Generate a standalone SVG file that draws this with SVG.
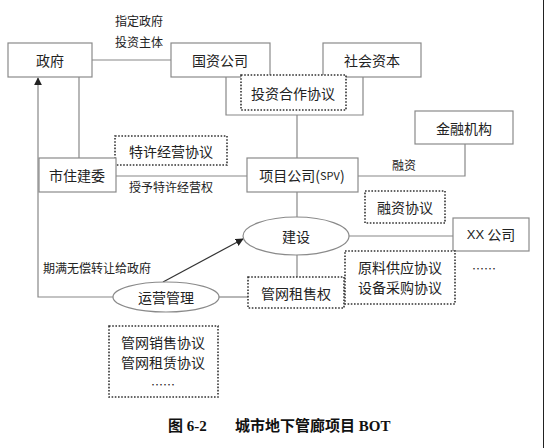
<svg xmlns="http://www.w3.org/2000/svg" width="544" height="448" viewBox="0 0 544 448">
<defs>
<style>
.box{fill:#fff;stroke:#8a8a8a;stroke-width:1.2}
.dot{fill:#fff;stroke:#333;stroke-width:1.6;stroke-dasharray:1.6 1.6}
.ln{fill:none;stroke:#888;stroke-width:1.2}
.t{font-family:"Noto Sans CJK SC","Liberation Sans",sans-serif;font-size:14px;fill:#222;text-anchor:middle;dominant-baseline:central}
.s{font-family:"Noto Sans CJK SC","Liberation Sans",sans-serif;font-size:12px;fill:#222;text-anchor:middle;dominant-baseline:central}
.cap{font-family:"Liberation Serif","Noto Sans CJK SC",serif;font-size:15px;font-weight:bold;fill:#111;dominant-baseline:central}
</style>
<marker id="ah" viewBox="0 0 10 10" refX="9" refY="5" markerWidth="8" markerHeight="8" markerUnits="userSpaceOnUse" orient="auto">
<path d="M0,0 L10,5 L0,10 Z" fill="#222"/>
</marker>
</defs>
<rect width="544" height="448" fill="#fff"/>
<line x1="543.5" y1="0" x2="543.5" y2="448" stroke="#222" stroke-width="1"/>
<g id="connectors">
<line class="ln" x1="92" y1="60" x2="171" y2="60"/>
<polyline class="ln" points="226,77 226,115 363,115 363,77"/>
<line class="ln" x1="297" y1="115" x2="297" y2="158"/>
<polyline class="ln" points="358,176 465,176 465,144"/>
<line class="ln" x1="79" y1="77" x2="79" y2="158"/>
<line class="ln" x1="116" y1="176" x2="247" y2="176"/>
<line class="ln" x1="297" y1="192" x2="297" y2="217"/>
<line class="ln" x1="349" y1="236" x2="453" y2="236"/>
<line class="ln" x1="297" y1="255" x2="297" y2="277"/>
<line class="ln" x1="218" y1="297" x2="248" y2="297"/>
<polyline class="ln" points="113,297 38,297 38,78" marker-end="url(#ah)"/>
<line x1="163" y1="282" x2="243" y2="239" stroke="#333" stroke-width="1.2" marker-end="url(#ah)"/>
</g>
<g id="label-zhiding"><text class="s" x="139" y="20">指定政府</text><text class="s" x="139" y="41">投资主体</text></g>
<g id="label-shouyu"><text class="s" x="171" y="186">授予特许经营权</text></g>
<g id="label-rongzi"><text class="s" x="404" y="164">融资</text></g>
<g id="label-qiman"><text class="s" x="97" y="267">期满无偿转让给政府</text></g>
<g id="zhengfu"><rect class="box" x="8" y="43" width="84" height="34"/><text class="t" x="50" y="60">政府</text></g>
<g id="guozi"><rect class="box" x="171" y="43" width="99" height="34"/><text class="t" x="220" y="60">国资公司</text></g>
<g id="shehui"><rect class="box" x="323" y="43" width="98" height="34"/><text class="t" x="372" y="60">社会资本</text></g>
<g id="touzi-xieyi"><rect class="dot" x="241" y="75" width="105" height="35"/><text class="t" x="293" y="93">投资合作协议</text></g>
<g id="jinrong"><rect class="box" x="415" y="111" width="98" height="33"/><text class="t" x="464" y="128">金融机构</text></g>
<g id="texu-xieyi"><rect class="dot" x="115" y="136" width="112" height="29"/><text class="t" x="171" y="151">特许经营协议</text></g>
<g id="shizhujian"><rect class="box" x="39" y="158" width="77" height="34"/><text class="t" x="77" y="175">市住建委</text></g>
<g id="xiangmu"><rect class="box" x="247" y="158" width="111" height="34"/><text class="t" x="302" y="175">项目公司(<tspan font-size="11">SPV</tspan>)</text></g>
<g id="rongzi-xieyi"><rect class="dot" x="365" y="191" width="80" height="32"/><text class="t" x="405" y="207">融资协议</text></g>
<g id="jianshe"><ellipse class="box" cx="296" cy="236" rx="53" ry="19" stroke="#555"/><text class="t" x="296" y="236">建设</text></g>
<g id="xx"><rect class="box" x="453" y="218" width="76" height="33"/><text class="t" x="491" y="234"><tspan font-family="Liberation Sans" font-size="13">XX</tspan> 公司</text><text class="s" x="484" y="268" fill="#666">……</text></g>
<g id="yuanliao"><rect class="dot" x="345" y="251" width="110" height="53"/><text class="t" x="400" y="267">原料供应协议</text><text class="t" x="400" y="287">设备采购协议</text></g>
<g id="guanwang-zushou"><rect class="dot" x="248" y="277" width="96" height="31"/><text class="t" x="296" y="293">管网租售权</text></g>
<g id="yunying"><ellipse class="box" cx="166" cy="297" rx="53" ry="15" stroke="#555"/><text class="t" x="166" y="297">运营管理</text></g>
<g id="xiaoshou"><rect class="dot" x="109" y="326" width="109" height="71"/><text class="t" x="163" y="342">管网销售协议</text><text class="t" x="163" y="362">管网租赁协议</text><text class="s" x="163" y="384" fill="#555">……</text></g>
<g id="caption"><text class="cap" x="168" y="426">图 6-2</text><text class="cap" x="235" y="426">城市地下管廊项目 BOT</text></g>
</svg>
